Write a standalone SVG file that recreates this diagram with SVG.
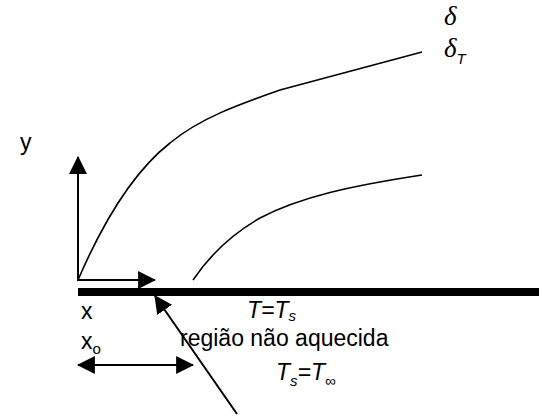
<svg xmlns="http://www.w3.org/2000/svg" width="542" height="419" viewBox="0 0 542 419">
<style>
.t{font-family:"Liberation Sans",Arial,sans-serif;font-size:23px;fill:#000}
.i{font-style:italic}
.g{font-family:"Liberation Serif","Times New Roman",serif;font-style:italic;font-size:27px;fill:#000}
.ln{stroke:#000;stroke-width:2;fill:none}
.cv{stroke:#000;stroke-width:1.6;fill:none}
</style>
<defs>
<marker id="ah" markerUnits="userSpaceOnUse" markerWidth="18" markerHeight="18" refX="15" refY="8" orient="auto-start-reverse" viewBox="0 0 16 16">
<path d="M0,0 L16,8 L0,16 Z" fill="#000"/>
</marker>
</defs>
<rect id="plate" x="78" y="288" width="461" height="8" fill="#000"/>
<g id="connectors">
<line class="ln" x1="78" y1="281" x2="78" y2="157" marker-end="url(#ah)"/>
<line class="ln" x1="77" y1="280" x2="155" y2="280" marker-end="url(#ah)"/>
<line class="ln" x1="237" y1="414" x2="155" y2="296" marker-end="url(#ah)"/>
<line class="ln" x1="78" y1="365" x2="193" y2="365" marker-start="url(#ah)" marker-end="url(#ah)"/>
</g>
<g id="delta-curve">
<path class="cv" d="M78,280 C103,222 133,172 170,143 C200,118 240,104 280,90 L422,52"/>
</g>
<g id="deltaT-curve">
<path class="cv" d="M193,280 C210,255 230,235 260,218 C300,197 350,186 422,175"/>
</g>
<g id="labels">
<text class="g" x="444" y="25">δ</text>
<text class="g" x="444" y="57">δ<tspan class="i" style="font-family:'Liberation Sans',Arial,sans-serif;font-size:15px" dy="7">T</tspan></text>
<text class="t" x="20" y="150">y</text>
<text class="t" x="81" y="319">x</text>
<text class="t" x="81" y="349">x<tspan font-size="15" dy="5">o</tspan></text>
<text class="t i" x="247" y="318">T=T<tspan font-size="15" dy="3">s</tspan></text>
<text class="t" x="180" y="346">região não aquecida</text>
<text class="t i" x="276" y="380">T<tspan font-size="15" dy="6">s</tspan><tspan dy="-6">=T</tspan><tspan font-size="15" dy="6">∞</tspan></text>
</g>
</svg>
